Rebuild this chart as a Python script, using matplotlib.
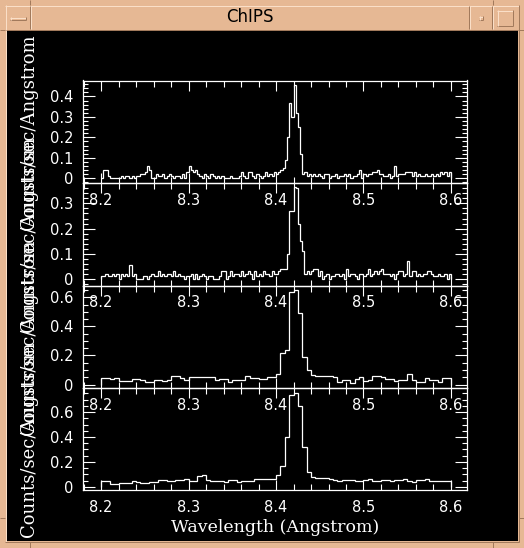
import numpy as np
import matplotlib
matplotlib.use('Agg')
import matplotlib.pyplot as plt
from matplotlib.patches import Rectangle
from matplotlib.lines import Line2D
from matplotlib.ticker import MultipleLocator

# ---------------- data ----------------
wl_start = 8.2
wl_stop = 8.6
heg_bin = 0.0025
meg_bin = 0.005

panel1 = [0, 0.04, 0.04, 0.01, 0, 0, 0, 0, 0, 0.01, 0, 0.01, 0.01, 0, 0.01, 0, 0.01, 0.01, 0.02, 0.02,
          0.03, 0.06, 0.04, 0, 0, 0.02, 0.01, 0.01, 0.02, 0, 0.01, 0.02, 0.01, 0, 0.01, 0.01, 0, 0.02, 0, 0.03,
          0.06, 0.04, 0.03, 0.04, 0.02, 0.01, 0, 0.02, 0.01, 0, 0.02, 0.01, 0, 0.01, 0, 0.01, 0, 0, 0, 0.01,
          0, 0, 0, 0.01, 0.03, 0.01, 0, 0.03, 0.03, 0.01, 0, 0.02, 0.01, 0, 0.01, 0.03, 0.01, 0.02, 0.01, 0.03,
          0.02, 0.03, 0.04, 0.05, 0.09, 0.20, 0.37, 0.30, 0.455, 0.32, 0.25, 0.12, 0.02, 0.03, 0.01, 0.02, 0.01, 0.02, 0.01, 0.02,
          0.01, 0, 0.02, 0.02, 0, 0.01, 0.01, 0.02, 0, 0.01, 0.01, 0.02, 0.01, 0.02, 0, 0.01, 0.01, 0.02, 0.04, 0,
          0.02, 0.01, 0.02, 0.02, 0.03, 0.03, 0.04, 0.02, 0.02, 0.01, 0.01, 0.02, 0, 0.01, 0.06, 0.01, 0.02, 0.02, 0.02, 0.03,
          0.03, 0.03, 0.01, 0.03, 0.01, 0.02, 0.01, 0.01, 0.02, 0.01, 0.01, 0.02, 0.01, 0.02, 0.01, 0.03, 0.02, 0.03, 0.01, 0.03]

panel2 = [0.01, 0.01, 0.02, 0.01, 0.01, 0.02, 0.01, 0.02, 0, 0.02, 0.01, 0.02, 0.01, 0.056, 0.01, 0.02, 0, 0, 0, 0.01,
          0.01, 0, 0.01, 0.02, 0.01, 0.01, 0.03, 0.01, 0.02, 0.01, 0.02, 0.02, 0.01, 0.03, 0.01, 0.02, 0.01, 0.01, 0, 0.01,
          0.01, 0.02, 0, 0.02, 0, 0.01, 0.02, 0.01, 0, 0.01, 0.01, 0, 0, 0, 0.01, 0.03, 0.03, 0, 0.01, 0.03,
          0.01, 0.02, 0.02, 0.01, 0.03, 0.01, 0.02, 0.03, 0.02, 0, 0.03, 0.01, 0.02, 0.01, 0.03, 0.02, 0.02, 0.01, 0.03, 0.02,
          0.02, 0.03, 0.04, 0.04, 0.04, 0.10, 0.27, 0.27, 0.366, 0.36, 0.22, 0.15, 0.11, 0.02, 0.03, 0.02, 0.03, 0.04, 0.04, 0.01,
          0.03, 0, 0.01, 0.02, 0, 0.01, 0.01, 0.02, 0.02, 0.01, 0.02, 0, 0.04, 0.01, 0.02, 0.02, 0.01, 0, 0.02, 0.02,
          0.01, 0.02, 0.04, 0.01, 0.02, 0.03, 0.02, 0.03, 0.04, 0.02, 0.02, 0.02, 0.01, 0.02, 0, 0.02, 0.03, 0.03, 0.01, 0.02,
          0.07, 0.01, 0.03, 0.03, 0.01, 0.02, 0.01, 0.02, 0.02, 0.03, 0.03, 0.02, 0.01, 0.01, 0.02, 0.01, 0.01, 0.02, 0, 0.02]

panel3 = [0.046, 0.046, 0.040, 0.046, 0.021, 0.021, 0.021, 0.037, 0.037, 0.030, 0.016, 0.016, 0.028, 0.028, 0.024,
          0.032, 0.058, 0.058, 0.046, 0.028, 0.051, 0.051, 0.055, 0.055, 0.055, 0.055, 0.032, 0.037, 0.037, 0.016,
          0.028, 0.028, 0.028, 0.062, 0.046, 0.046, 0.040, 0.040, 0.051, 0.051, 0.074, 0.217, 0.235, 0.634, 0.650,
          0.490, 0.190, 0.100, 0.067, 0.062, 0.062, 0.058, 0.058, 0.055, 0.014, 0.032, 0.032, 0.010, 0.039, 0.051,
          0.023, 0.028, 0.058, 0.058, 0.055, 0.039, 0.039, 0.021, 0.034, 0.034, 0.074, 0.032, 0.016, 0.016, 0.046,
          0.032, 0.032, 0.016, 0.046, 0.046]

panel4 = [0.048, 0.048, 0.021, 0.021, 0.027, 0.032, 0.032, 0.043, 0.040, 0.030, 0.032, 0.037, 0.040, 0.053, 0.053,
          0.043, 0.045, 0.053, 0.053, 0.059, 0.045, 0.048, 0.085, 0.093, 0.053, 0.048, 0.048, 0.043, 0.040, 0.053,
          0.053, 0.035, 0.043, 0.048, 0.045, 0.059, 0.059, 0.059, 0.059, 0.059, 0.093, 0.165, 0.400, 0.740, 0.757,
          0.650, 0.320, 0.120, 0.075, 0.067, 0.067, 0.067, 0.059, 0.053, 0.048, 0.053, 0.051, 0.053, 0.048, 0.048,
          0.053, 0.059, 0.048, 0.043, 0.053, 0.051, 0.048, 0.053, 0.051, 0.059, 0.045, 0.040, 0.051, 0.053, 0.059,
          0.045, 0.045, 0.043, 0.043, 0.048]

panels = [panel1, panel2, panel3, panel4]
bin_widths = [heg_bin, heg_bin, meg_bin, meg_bin]
y_limits = [(-0.023, 0.478), (-0.026, 0.381), (-0.024, 0.682), (-0.026, 0.794)]
y_major = [0.1, 0.1, 0.2, 0.2]
y_minor = [0.02, 0.02, 0.05, 0.05]
x_limits = (8.1794, 8.6183)
x_label = 'Wavelength (Angstrom)'
y_label = 'Counts/sec/Angstrom'
window_title = 'ChIPS'

# ---------------- figure / window frame ----------------
W, H = 524, 548
FRAME = '#E6B894'
LIGHT = '#FADFC8'
DARK = '#A27A5C'
fig = plt.figure(figsize=(W / 100, H / 100), dpi=100, facecolor=FRAME)


def fx(x):
    return x / W


def fy(y):
    return 1 - y / H


def pline(x0, y0, x1, y1, c, lw=1.0):
    fig.add_artist(Line2D([fx(x0), fx(x1)], [fy(y0), fy(y1)], transform=fig.transFigure,
                          color=c, lw=lw * 0.72, solid_capstyle='butt'))


def prect(x0, y0, x1, y1, c, z=0):
    fig.add_artist(Rectangle((fx(x0), fy(y1)), fx(x1) - fx(x0), fy(y0) - fy(y1),
                             transform=fig.transFigure, facecolor=c, edgecolor='none', zorder=z))


# black canvas
prect(6, 30, 518, 541, 'black', z=0)

# bevel lines of frame
pline(5, 5.5, 519, 5.5, LIGHT)
pline(5.5, 5, 5.5, 542, LIGHT)
pline(518.5, 5, 518.5, 542, DARK)
pline(5, 541.5, 519, 541.5, DARK)
pline(6, 29.5, 518, 29.5, DARK)
# title bar separators
for xs in (29.5, 468.5, 491.5):
    pline(xs, 6, xs, 29, DARK)
    pline(xs + 1, 6, xs + 1, 29, LIGHT)
# left button bar
pline(10, 17.5, 26, 17.5, LIGHT)
pline(10, 19.5, 26, 19.5, DARK)
pline(10.5, 17, 10.5, 20, LIGHT)
pline(25.5, 17, 25.5, 20, DARK)
# iconify button small square
pline(479, 16.5, 483, 16.5, LIGHT)
pline(479, 19.5, 483, 19.5, DARK)
pline(479.5, 16, 479.5, 20, LIGHT)
pline(482.5, 16, 482.5, 20, DARK)
# maximize square
pline(497, 10.5, 513, 10.5, LIGHT)
pline(497, 25.5, 513, 25.5, DARK)
pline(497.5, 10, 497.5, 26, LIGHT)
pline(512.5, 10, 512.5, 26, DARK)
# resize handle marks
for xs in (29.5, 492.5):
    pline(xs, 0, xs, 5, DARK)
    pline(xs, 542, xs, 548, DARK)
pline(0, 517.5, 5, 517.5, DARK)
pline(519, 517.5, 524, 517.5, DARK)
pline(0, 29.5, 5, 29.5, DARK)
pline(519, 29.5, 524, 29.5, DARK)

fig.text(fx(250), fy(17.5), window_title, ha='center', va='center', fontsize=12,
         family='DejaVu Sans', color='black')

# ---------------- panels ----------------
left_px, right_px = 83, 467
tops = [80.5, 183, 285.5, 388]
bots = [183, 285.5, 388, 490]

TICK_FONT = 'DejaVu Sans'
LABEL_FONT = 'DejaVu Serif'

for k in range(4):
    ax = fig.add_axes([fx(left_px), fy(bots[k]), fx(right_px) - fx(left_px), fy(tops[k]) - fy(bots[k])])
    ax.set_facecolor('none')
    vals = np.array(panels[k])
    edges = wl_start + bin_widths[k] * np.arange(len(vals) + 1)
    ax.stairs(vals, edges, baseline=0, color='white', lw=0.9)
    ax.set_xlim(*x_limits)
    ax.set_ylim(*y_limits[k])
    ax.xaxis.set_major_locator(MultipleLocator(0.1))
    ax.xaxis.set_minor_locator(MultipleLocator(0.02))
    ax.yaxis.set_major_locator(MultipleLocator(y_major[k]))
    ax.yaxis.set_minor_locator(MultipleLocator(y_minor[k]))
    ax.xaxis.set_major_formatter(plt.FuncFormatter(lambda v, p: f'{v:.1f}'))
    ax.yaxis.set_major_formatter(plt.FuncFormatter(lambda v, p: '0' if abs(v) < 1e-9 else f'{v:.1f}'))
    for s in ax.spines.values():
        s.set_color('white')
        s.set_linewidth(0.9)
    ax.tick_params(axis='both', which='both', direction='in', colors='white',
                   top=True, right=True, width=0.8)
    ax.tick_params(axis='x', which='major', length=7.2, pad=7)
    ax.tick_params(axis='x', which='minor', length=4.3)
    ax.tick_params(axis='y', which='major', length=8.6, pad=7)
    ax.tick_params(axis='y', which='minor', length=3.8)
    for lab in ax.get_xticklabels() + ax.get_yticklabels():
        lab.set_fontsize(10.5)
        lab.set_family(TICK_FONT)
        lab.set_color('white')
    ax.set_ylabel(y_label, fontsize=13, family=LABEL_FONT, color='white')
    ax.yaxis.set_label_coords((38 - left_px) / (right_px - left_px), 0.5)
    if k == 3:
        ax.set_xlabel(x_label, fontsize=12.5, family=LABEL_FONT, color='white', labelpad=3)

fig.savefig('out.png', dpi=100, facecolor=FRAME)
